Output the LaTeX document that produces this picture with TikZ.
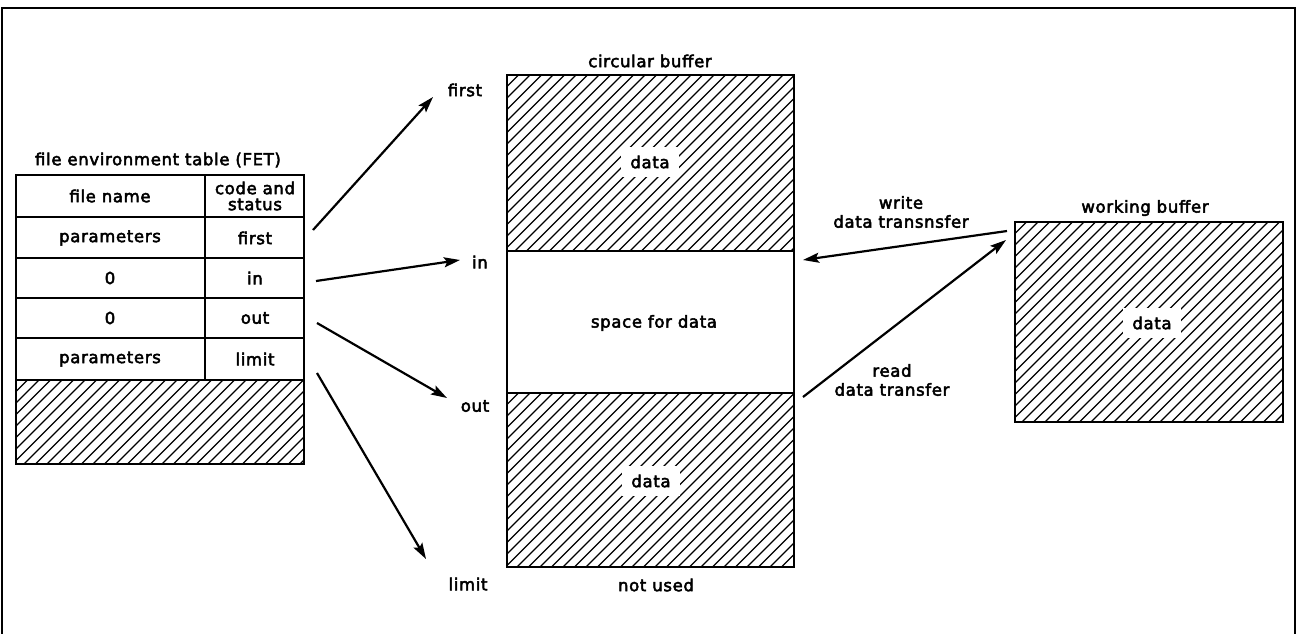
\documentclass[tikz,border=0pt]{standalone}
\usepackage{fontspec}
\setmainfont{DejaVu Sans}[LetterSpace=4, FakeBold=3]
\usetikzlibrary{arrows.meta}
\newcommand\hatchbox[4]{%
  \begin{scope}
    \clip (#1,#2) rectangle (#3,#4);
    \pgfmathsetmacro\hh{#4-#2}
    \foreach \k in {0,...,70}{
      \draw[hatchline] ({#1-\hh+\k*11.5},#4) -- ++(\hh,-\hh);
    }
  \end{scope}
  \draw[boxline] (#1,#2) rectangle (#3,#4);
}
\begin{document}
\begin{tikzpicture}[x=1pt,y=-1pt,
  every node/.style={font=\fontsize{16.5}{19}\selectfont, inner sep=2pt},
  boxline/.style={line width=2.2pt},
  hatchline/.style={line width=1.3pt},
  arr/.style={line width=2.2pt,-{Stealth[length=16pt,width=10pt,inset=3pt]}},
  cell/.style={align=center},
  lbl/.style={fill=white, inner sep=9pt}]
\useasboundingbox (0,0) rectangle (1298,633);
% frame
\draw[line width=2pt] (2,640) -- (2,8) -- (1295,8) -- (1295,640);

% FET table
\node (fettitle) at (158,160) {file environment table (FET)};
\hatchbox{16}{380}{304}{464}
\draw[boxline] (16,175) rectangle (304,380);
\foreach \y in {217,258,298,338}{\draw[boxline] (16,\y) -- (304,\y);}
\draw[boxline] (205,175) -- (205,380);
\node[cell] (fname) at (110,196) {file name};
\node[cell,font=\fontsize{16.5}{16}\selectfont] (code) at (255,196) {code and\\status};
\node[cell] (par1) at (110,238) {parameters};
\node[cell] (cfirst) at (255,238) {first};
\node[cell] (z1) at (110,278) {0};
\node[cell] (cin) at (255,278) {in};
\node[cell] (z2) at (110,318) {0};
\node[cell] (cout) at (255,318) {out};
\node[cell] (par2) at (110,359) {parameters};
\node[cell] (climit) at (255,359) {limit};

% circular buffer
\node (cbtitle) at (650,61) {circular buffer};
\hatchbox{507}{75}{794}{251}
\draw[boxline] (507,251) rectangle (794,393);
\hatchbox{507}{393}{794}{567}
\node[lbl] (data1) at (650,162) {data};
\node (space) at (654,323) {space for data};
\node[lbl] (data2) at (651,481) {data};
\node (notused) at (656,585) {not used};

% pointer labels
\node (lfirst) at (465,90) {first};
\node (lin) at (480,262) {in};
\node (lout) at (475,406) {out};
\node (llimit) at (468,584) {limit};

% pointer arrows
\coordinate (sfirst) at (313,230);
\coordinate (efirst) at (433,97);
\coordinate (sin) at (316,281);
\coordinate (ein) at (460,260);
\coordinate (sout) at (317,323);
\coordinate (eout) at (447,398);
\coordinate (slimit) at (317,373);
\coordinate (elimit) at (426,559);
\draw[arr] (sfirst) -- (efirst);
\draw[arr] (sin) -- (ein);
\draw[arr] (sout) -- (eout);
\draw[arr] (slimit) -- (elimit);

% working buffer
\node (wbtitle) at (1145,208) {working buffer};
\hatchbox{1015}{222}{1283}{422}
\node[lbl] (data3) at (1152,323) {data};

% transfers
\node[align=center] (write) at (901,212) {write\\data transnsfer};
\node[align=center] (read) at (892,380) {read\\data transfer};
\coordinate (wstart) at (1007,231);
\coordinate (wend) at (803,260);
\coordinate (rstart) at (803,397);
\coordinate (rend) at (1006,240);
\draw[arr] (wstart) -- (wend);
\draw[arr] (rstart) -- (rend);
\end{tikzpicture}
\end{document}
